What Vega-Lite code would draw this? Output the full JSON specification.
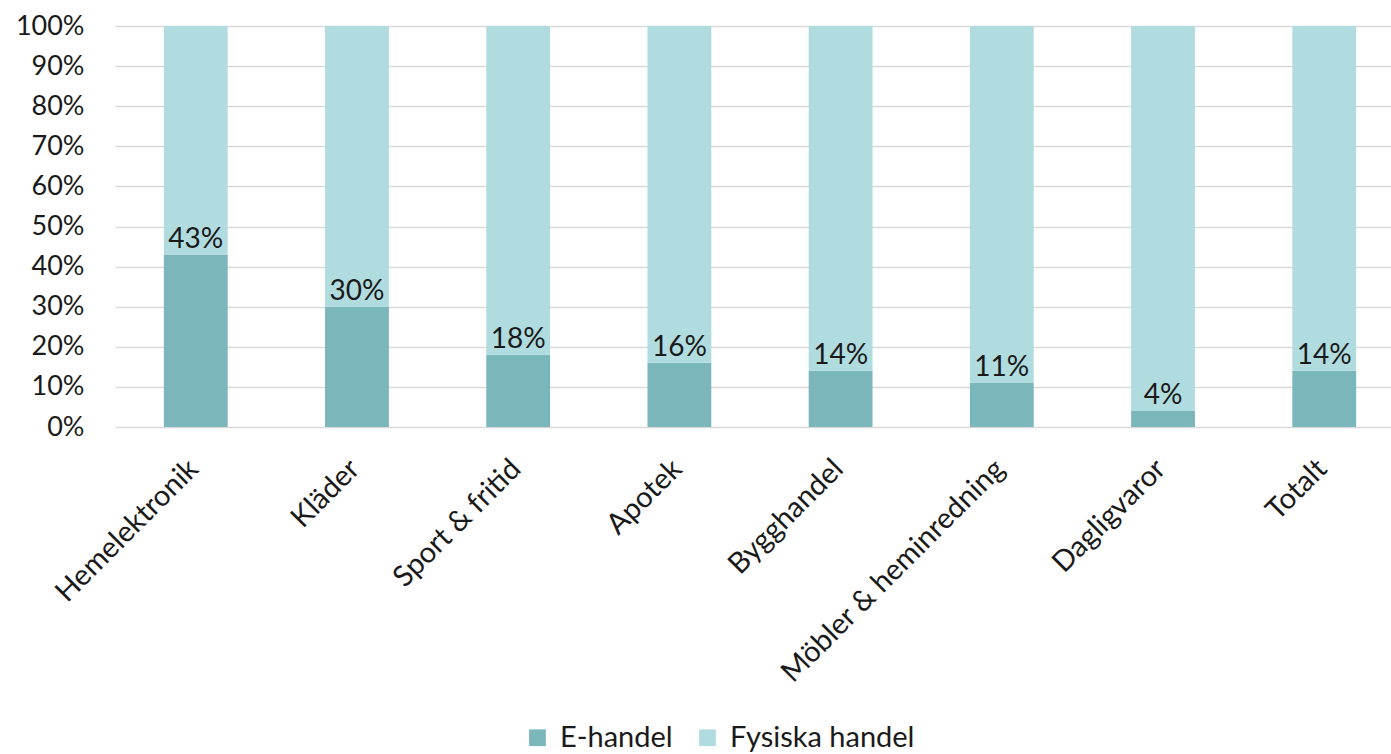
{
  "$schema": "https://vega.github.io/schema/vega-lite/v6.json",
  "autosize": "none",
  "width": 1290,
  "height": 401,
  "padding": {"left": 115, "top": 26, "right": 0, "bottom": 327},
  "background": "white",
  "config": {
    "font": "Lato",
    "view": {"stroke": null},
    "axis": {"labelFont": "Lato", "labelColor": "#1a1a1a"},
    "legend": {"labelFont": "Lato", "labelColor": "#1a1a1a", "labelFontSize": 29, "labelLimit": 0}
  },
  "data": {
    "values": [
      {"kategori": "Hemelektronik", "typ": "E-handel", "andel": 0.43, "ordning": 1},
      {"kategori": "Hemelektronik", "typ": "Fysiska handel", "andel": 0.57, "ordning": 2},
      {"kategori": "Kläder", "typ": "E-handel", "andel": 0.30, "ordning": 1},
      {"kategori": "Kläder", "typ": "Fysiska handel", "andel": 0.70, "ordning": 2},
      {"kategori": "Sport & fritid", "typ": "E-handel", "andel": 0.18, "ordning": 1},
      {"kategori": "Sport & fritid", "typ": "Fysiska handel", "andel": 0.82, "ordning": 2},
      {"kategori": "Apotek", "typ": "E-handel", "andel": 0.16, "ordning": 1},
      {"kategori": "Apotek", "typ": "Fysiska handel", "andel": 0.84, "ordning": 2},
      {"kategori": "Bygghandel", "typ": "E-handel", "andel": 0.14, "ordning": 1},
      {"kategori": "Bygghandel", "typ": "Fysiska handel", "andel": 0.86, "ordning": 2},
      {"kategori": "Möbler & heminredning", "typ": "E-handel", "andel": 0.11, "ordning": 1},
      {"kategori": "Möbler & heminredning", "typ": "Fysiska handel", "andel": 0.89, "ordning": 2},
      {"kategori": "Dagligvaror", "typ": "E-handel", "andel": 0.04, "ordning": 1},
      {"kategori": "Dagligvaror", "typ": "Fysiska handel", "andel": 0.96, "ordning": 2},
      {"kategori": "Totalt", "typ": "E-handel", "andel": 0.14, "ordning": 1},
      {"kategori": "Totalt", "typ": "Fysiska handel", "andel": 0.86, "ordning": 2}
    ]
  },
  "encoding": {
    "x": {
      "field": "kategori", "type": "nominal", "sort": null,
      "scale": {"paddingInner": 0.604, "paddingOuter": 0.303},
      "axis": {"title": null, "labelAngle": -45, "domain": false, "ticks": false, "labelPadding": 27, "labelOffset": -12, "labelLimit": 0, "labelFontSize": 29, "labelOverlap": false}
    }
  },
  "layer": [
    {
      "mark": {"type": "bar"},
      "encoding": {
        "y": {
          "field": "andel", "type": "quantitative", "stack": "zero",
          "scale": {"domain": [0, 1]},
          "axis": {"title": null, "format": ".0%", "values": [0,0.1,0.2,0.3,0.4,0.5,0.6,0.7,0.8,0.9,1], "labelOverlap": false, "labelFontSize": 27, "domain": false, "ticks": false, "labelPadding": 31, "gridColor": "#d9d9d9", "gridWidth": 1.5}
        },
        "color": {
          "field": "typ", "type": "nominal",
          "scale": {"domain": ["E-handel", "Fysiska handel"], "range": ["#7bb6bb", "#b0dcdf"]},
          "legend": {"title": null, "orient": "none", "direction": "horizontal", "legendX": 408, "legendY": 697, "symbolType": "square", "symbolSize": 280, "symbolStrokeWidth": 0, "symbolOpacity": 1, "columnPadding": 20, "labelOffset": 8, "labelLimit": 0}
        },
        "order": {"field": "ordning", "type": "quantitative"}
      }
    },
    {
      "transform": [{"filter": "datum.typ === 'E-handel'"}],
      "mark": {"type": "text", "baseline": "bottom", "dy": -1, "fontSize": 28, "color": "#1a1a1a", "font": "Lato"},
      "encoding": {
        "y": {"field": "andel", "type": "quantitative"},
        "text": {"field": "andel", "type": "quantitative", "format": ".0%"}
      }
    }
  ]
}
